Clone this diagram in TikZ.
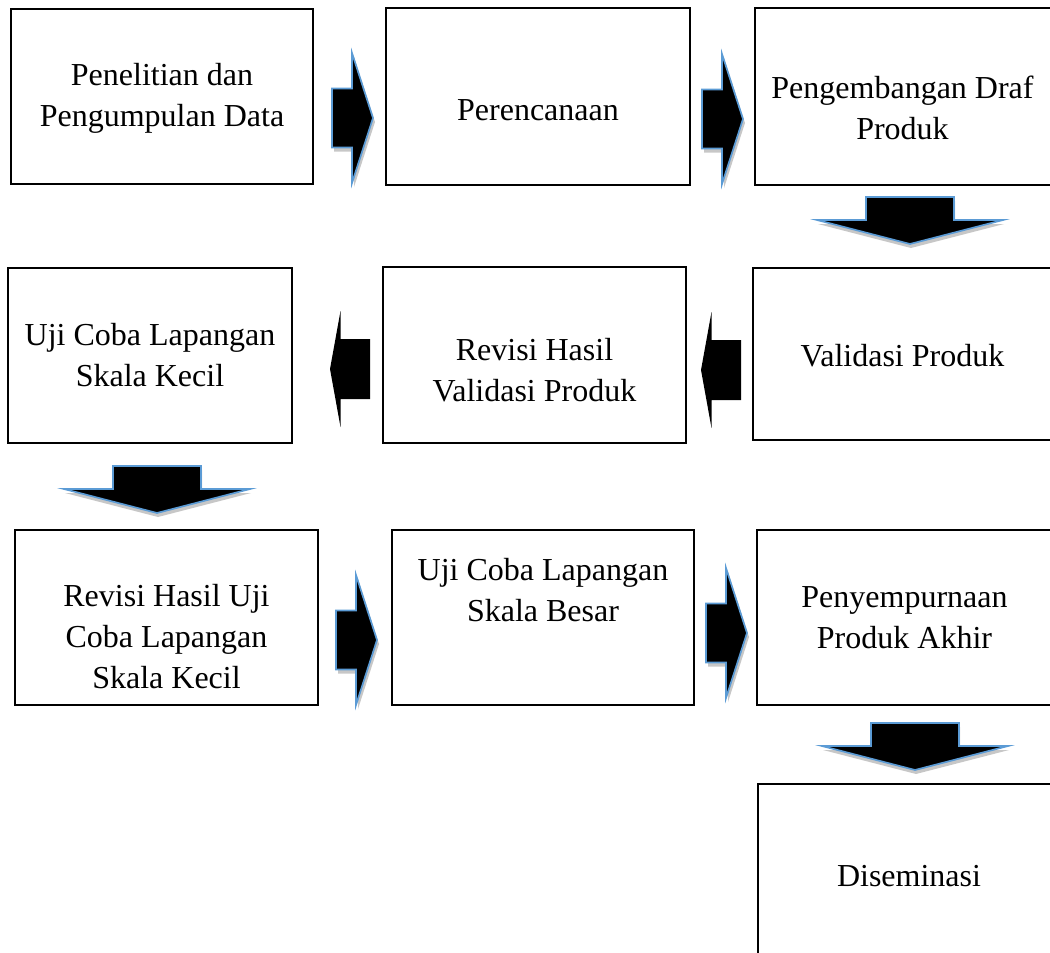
\documentclass[tikz,border=0pt]{standalone}
\usepackage{fontspec}
\setmainfont{Liberation Serif}
\usetikzlibrary{positioning}
\definecolor{arrowblue}{RGB}{91,155,213}
\tikzset{
x=1pt, y=-1pt, % one unit is one pixel, y runs downwards
stepbox/.style={draw, line width=1.8pt, inner sep=0pt}, % the boxes of the steps
steptext/.style={align=center, font=\fontsize{32}{41}\selectfont}, % text in the boxes
blockarrow/.style={fill=black, draw=arrowblue, line width=1.7pt, line join=miter}, % outlined block arrows
blockshadow/.style={fill=black!22}, % their soft shadow
}
% block arrows, #1 is the tip
\newcommand{\rightblock}[1]{%
  \fill[blockshadow, shift={(#1)}, shift={(2,4)}] (-41,-29.5) -- (-21,-29.5) -- (-21,-65) -- (0,0) -- (-21,65) -- (-21,29.5) -- (-41,29.5) -- cycle;
  \filldraw[blockarrow, shift={(#1)}] (-41,-29.5) -- (-21,-29.5) -- (-21,-65) -- (0,0) -- (-21,65) -- (-21,29.5) -- (-41,29.5) -- cycle;}
\newcommand{\leftblock}[1]{%
  \fill[black, shift={(#1)}] (40,-30) -- (10.5,-30) -- (10.5,-58) -- (0,0) -- (10.5,58) -- (10.5,30) -- (40,30) -- cycle;}
\newcommand{\downblock}[1]{%
  \fill[blockshadow, shift={(#1)}, shift={(1,4)}] (-44,-47) -- (44,-47) -- (44,-24) -- (93,-24) -- (0,0) -- (-93,-24) -- (-44,-24) -- cycle;
  \filldraw[blockarrow, shift={(#1)}] (-44,-47) -- (44,-47) -- (44,-24) -- (93,-24) -- (0,0) -- (-93,-24) -- (-44,-24) -- cycle;}

\begin{document}
\begin{tikzpicture}
    \useasboundingbox (0,0) rectangle (1050,953);

    % first row
    \node[stepbox, minimum width=302, minimum height=175] (research) at (162,96.5) {};
    \node[stepbox, minimum width=304, minimum height=177] (planning) at (538,96.5) {};
    \node[stepbox, minimum width=297, minimum height=177] (draft) at (903.5,96.5) {};
    % second row
    \node[stepbox, minimum width=284, minimum height=175] (smalltest) at (150,355.5) {};
    \node[stepbox, minimum width=303, minimum height=176] (revvalid) at (534.5,355) {};
    \node[stepbox, minimum width=299, minimum height=172] (validation) at (902.5,354) {};
    % third row
    \node[stepbox, minimum width=303, minimum height=175] (revsmall) at (166.5,617.5) {};
    \node[stepbox, minimum width=302, minimum height=175] (bigtest) at (543,617.5) {};
    \node[stepbox, minimum width=295, minimum height=175] (final) at (904.5,617.5) {};
    % last step
    \node[stepbox, minimum width=294, minimum height=172] (spread) at (905,870) {};

    \node[steptext] (research-t) at ([yshift=-2pt]research.center) {Penelitian dan\\Pengumpulan Data};
    \node[steptext] (planning-t) at ([yshift=-14pt]planning.center) {Perencanaan};
    \node[steptext] (draft-t) at ([yshift=-11pt, xshift=-1pt]draft.center) {Pengembangan Draf\\Produk};
    \node[steptext] (smalltest-t) at (smalltest.center) {Uji Coba Lapangan\\Skala Kecil};
    \node[steptext] (revvalid-t) at ([yshift=-15pt]revvalid.center) {Revisi Hasil\\Validasi Produk};
    \node[steptext] (validation-t) at ([yshift=-2pt]validation.center) {Validasi Produk};
    \node[steptext] (revsmall-t) at ([yshift=-19pt]revsmall.center) {Revisi Hasil Uji\\Coba Lapangan\\Skala Kecil};
    \node[steptext] (bigtest-t) at ([yshift=27pt]bigtest.center) {Uji Coba Lapangan\\Skala Besar};
    \node[steptext] (final-t) at (final.center) {Penyempurnaan\\Produk Akhir};
    \node[steptext] (spread-t) at ([yshift=-6pt, xshift=4pt]spread.center) {Diseminasi};

    % tips of the block arrows
    \coordinate (r1) at (373,118);
    \coordinate (r2) at (743,119);
    \coordinate (d1) at (910,244);
    \coordinate (l1) at (701,370);
    \coordinate (l2) at (330,369);
    \coordinate (d2) at (157,513);
    \coordinate (r3) at (377,640);
    \coordinate (r4) at (747,633);
    \coordinate (d3) at (915,770);

    \rightblock{r1}
    \rightblock{r2}
    \downblock{d1}
    \leftblock{l1}
    \leftblock{l2}
    \downblock{d2}
    \rightblock{r3}
    \rightblock{r4}
    \downblock{d3}
\end{tikzpicture}
\end{document}
